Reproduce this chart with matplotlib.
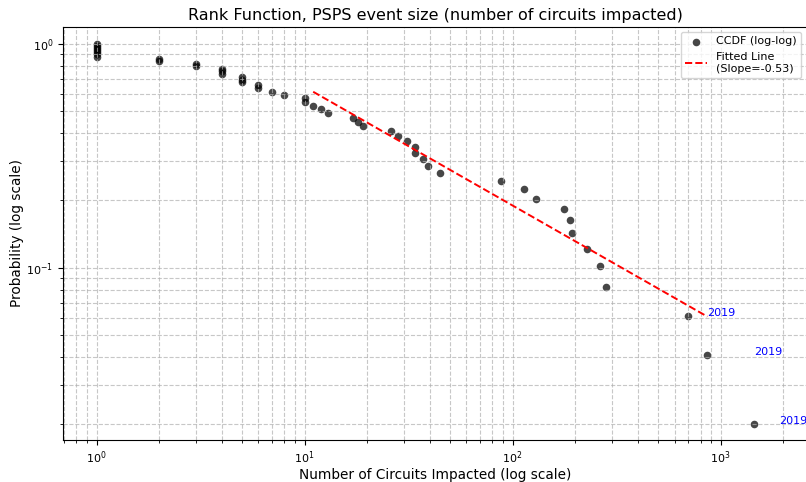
import matplotlib
matplotlib.use("Agg")
import matplotlib.pyplot as plt
import numpy as np

# event sizes (circuits impacted) and CCDF values
circuits = [1, 1, 1, 1, 1, 1, 1, 2, 2, 3, 3, 4, 4, 4, 5, 5, 5, 6, 6, 7, 8,
            10, 10, 11, 12, 13, 17, 18, 19, 26, 28, 31, 34, 34, 37, 39, 45,
            88, 114, 130, 176, 189, 194, 229, 263, 280, 694, 863, 1452]
ccdf = [1.000, 0.980, 0.959, 0.939, 0.918, 0.898, 0.878, 0.857, 0.837,
        0.816, 0.796, 0.776, 0.755, 0.735, 0.714, 0.694, 0.673, 0.653,
        0.633, 0.612, 0.592, 0.571, 0.551, 0.531, 0.510, 0.490, 0.469,
        0.449, 0.429, 0.408, 0.388, 0.367, 0.347, 0.327, 0.306, 0.286,
        0.265, 0.245, 0.224, 0.204, 0.184, 0.163, 0.143, 0.122, 0.102,
        0.082, 0.061, 0.041, 0.020]

# fitted power law
fit_slope = -0.53
fit_coef = 2.18
fit_x = [11, 863]

# year labels next to the largest events
label_x = [863, 1452, 1900]
label_y = [0.061, 0.041, 0.020]
label_text = ["2019", "2019", "2019"]

fig = plt.figure(figsize=(8.06, 4.82), dpi=100)
ax = fig.add_axes([63 / 806, 1 - 440 / 482, 744 / 806, (440 - 26.5) / 482])

ax.scatter(circuits, ccdf, s=30, color="black", alpha=0.72, linewidths=0,
           label="CCDF (log-log)")
fx = np.array(fit_x, dtype=float)
ax.plot(fx, fit_coef * fx ** fit_slope, "r--", linewidth=1.4,
        label=f"Fitted Line\n(Slope={fit_slope:.2f})")

for x, y, t in zip(label_x, label_y, label_text):
    ax.text(x, y, t, color="blue", fontsize=8)

ax.set_xscale("log")
ax.set_yscale("log")
ax.set_xlim(0.69, 2600)
ax.set_ylim(0.01703, 1.197)
ax.grid(True, which="both", linestyle="--", color="#b0b0b0", alpha=0.7, linewidth=0.8)
ax.tick_params(labelsize=8)
ax.set_xlabel("Number of Circuits Impacted (log scale)", fontsize=9.8, labelpad=1)
ax.set_ylabel("Probability (log scale)", fontsize=9.8, labelpad=1.5)
ax.set_title("Rank Function, PSPS event size (number of circuits impacted)",
             fontsize=11.5, pad=4.5)
ax.legend(loc="upper right", fontsize=8)

fig.savefig("out.png", dpi=100)
